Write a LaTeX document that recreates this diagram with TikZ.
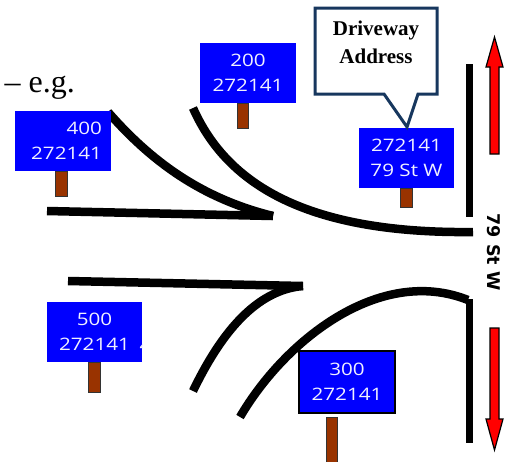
\documentclass[tikz,border=0pt]{standalone}
\usepackage{fontspec}
\setmainfont{Liberation Serif}
\newfontfamily\signfont[FakeStretch=1.2]{Open Sans}
\newfontfamily\streetfont{DejaVu Sans}
\definecolor{signblue}{RGB}{0,0,255}
\definecolor{postbrown}{RGB}{153,51,0}
\definecolor{calloutblue}{RGB}{23,55,94}
\definecolor{signtextcol}{RGB}{240,240,255}
\tikzset{
  road/.style={line width=8.5pt, black},
  roadv/.style={line width=7.5pt, black},
  sign/.style={rectangle, fill=signblue, text=signtextcol, inner sep=0pt,
    minimum width=96pt, minimum height=60pt, align=center,
    font=\signfont\fontsize{17.2}{25}\selectfont},
  signtext/.style={text=signtextcol, inner sep=0pt,
    font=\signfont\fontsize{17.2}{25}\selectfont},
  post/.style={fill=postbrown, draw=black!80, line width=1pt},
  redarrow/.style={fill=red, draw=black, line width=1.2pt, line join=miter},
  callout/.style={draw=calloutblue, fill=white, line width=3pt, line join=miter},
}
\begin{document}
\begin{tikzpicture}[x=1pt, y=-1pt]
\path[use as bounding box] (0,0) rectangle (510,461);

% text fragment
\node[anchor=base east, inner sep=0pt, font=\fontsize{32}{38}\selectfont] (eg) at (75,92) {– e.g.};

% roads
\draw[road] (108,112) .. controls (150,160) and (200,198) .. (273,216);
\draw[road] (47,211) -- (273,216);
\draw[road] (193,108) .. controls (225,180) and (300,234) .. (473,232);
\draw[road] (68,281) -- (303,286);
\draw[road] (303,286) .. controls (255,290) and (220,335) .. (193,391);
\draw[road] (240,417) .. controls (285,340) and (380,265) .. (468,300);
\draw[roadv] (469.5,299) -- (469.5,443);
\draw[roadv] (469.5,64) -- (469.5,217);

% arrows
\draw[redarrow] (490,154) -- (490,67) -- (486,67) -- (494.5,37) -- (503,67) -- (499,67) -- (499,154) -- cycle;
\draw[redarrow] (490,328) -- (490,419) -- (486,419) -- (494.5,450) -- (503,419) -- (499,419) -- (499,328) -- cycle;

% street name
\node[rotate=-90, inner sep=0pt, font=\streetfont\bfseries\fontsize{17.5}{20}\selectfont] (street) at (493.5,252) {79 St W};

% posts
\draw[post] (237,103) rectangle (248,128);
\draw[post] (55,171) rectangle (67,196);
\draw[post] (400,188) rectangle (412,207);
\draw[post] (88,362) rectangle (100,392);
\draw[post] (326,417) rectangle (337,466);

% signs
\node[sign] (s200) at (248,73) {200\\272141};
\node[sign, align=right, text width=78pt, inner xsep=9pt] (s400) at (63,141) {400\\272141};
\node[sign, minimum width=95pt] (s79) at (406.5,158) {272141\\79 St W};
\node[sign, minimum width=95pt] (s500) at (94.5,332) {500\\272141};
\begin{scope}
  \clip (s500.south west) rectangle (s500.north east);
  \node[signtext, anchor=base west] (s500x) at (139.5,351.3) {4};
\end{scope}
\node[sign, draw=black, line width=1.2pt, minimum height=62pt] (s300) at (347,382) {300\\272141};

% callout
\draw[callout] (315,8) -- (437,8) -- (437,94) -- (418,94) -- (407,127) -- (384,94) -- (315,94) -- cycle;
\node[align=center, inner sep=0pt, font=\bfseries\fontsize{21}{28}\selectfont] (drv) at (376,42) {Driveway\\Address};
\end{tikzpicture}
\end{document}
